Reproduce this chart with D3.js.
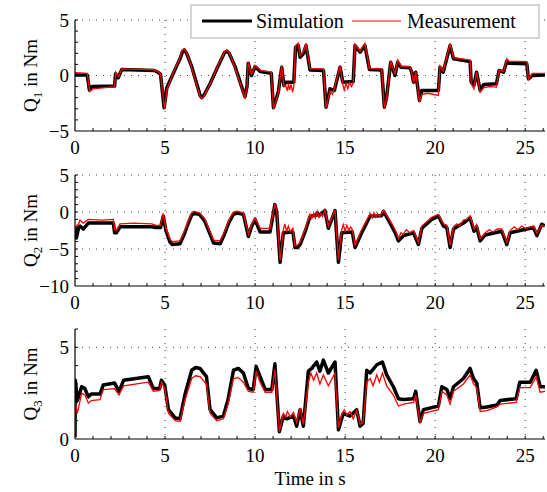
<!DOCTYPE html>
<html lang="en">
<head>
<meta charset="UTF-8">
<title>Joint torques</title>
<script src="https://d3js.org/d3.v7.min.js"></script>
<style>
  body { margin: 0; background: #fff; }
  text { font-family: "Liberation Serif", "Times New Roman", serif; fill: #000; }
</style>
</head>
<body>
<div id="plot"></div>
<script>
// time axis shared by all three panels
var timeTicks = [0, 5, 10, 15, 20, 25];
var timeMax = 26.1;

// panel 1: Q1 [t, value]
var q1Sim = [[0,0.05],[0.68,0.05],[0.8,-1.3],[0.95,-1.0],[2.2,-0.95],[2.25,0.15],[2.4,-0.2],[2.6,0.55],[3.5,0.5],[4.4,0.45],[4.6,0.3],[4.75,0.1],[4.95,-2.9],[5.1,-1.1],[5.46,0.2],[5.83,1.5],[5.97,2.15],[6.07,2.3],[6.2,2.0],[6.48,0.8],[6.76,-0.75],[6.95,-1.8],[7.04,-2.0],[7.15,-1.8],[7.5,-0.75],[7.96,0.9],[8.3,2.05],[8.43,2.2],[8.56,2.0],[8.89,0.8],[9.26,-1.05],[9.44,-1.9],[9.55,-1.0],[9.62,1.1],[9.8,0.0],[10.0,0.8],[10.3,0.35],[10.9,0.2],[11.02,-2.9],[11.2,-2.0],[11.3,-1.4],[11.48,0.75],[11.6,-0.9],[11.7,-0.6],[12.15,-0.6],[12.25,2.55],[12.4,2.7],[12.5,1.65],[12.68,1.95],[12.83,2.7],[13.05,0.5],[13.8,0.45],[13.94,-2.85],[14.16,-1.2],[14.4,-1.35],[14.72,0.75],[14.87,-0.6],[15.45,-0.55],[15.55,2.7],[15.83,2.1],[16.1,2.7],[16.35,0.55],[17.03,0.5],[17.18,-2.85],[17.3,-2.0],[17.53,1.2],[17.77,0.0],[17.92,1.2],[18.1,0.75],[18.6,0.7],[18.7,0.3],[18.8,-0.6],[18.92,0.3],[19.13,-2.25],[19.26,-1.35],[20.18,-1.35],[20.27,0.75],[20.45,0.3],[20.83,2.7],[21.02,1.5],[21.94,1.25],[22.0,-0.6],[22.15,-0.9],[22.3,0.3],[22.5,-1.35],[22.7,-0.8],[23.4,-0.75],[23.55,0.45],[23.8,0.3],[23.98,1.3],[24.1,1.1],[25.09,1.05],[25.18,-0.3],[25.4,0.0],[26.1,0.05]];
var q1Meas = [[0,0.25],[0.68,0.2],[0.82,-1.45],[1.0,-1.2],[2.2,-1.0],[2.26,0.3],[2.42,-0.1],[2.62,0.6],[3.5,0.55],[4.4,0.5],[4.6,0.35],[4.75,0.15],[4.97,-3.0],[5.12,-1.2],[5.46,0.3],[5.83,1.6],[5.95,2.25],[6.05,2.4],[6.2,2.1],[6.48,0.7],[6.76,-0.85],[6.95,-1.9],[7.04,-2.1],[7.15,-1.9],[7.5,-0.8],[7.96,1.0],[8.3,2.15],[8.43,2.3],[8.56,2.1],[8.89,0.7],[9.26,-1.15],[9.44,-2.0],[9.55,-1.1],[9.62,1.2],[9.8,0.1],[10.0,0.9],[10.3,0.45],[10.9,0.3],[11.02,-3.0],[11.2,-2.1],[11.3,-1.5],[11.48,0.9],[11.6,-1.0],[11.7,-0.9],[11.8,-1.4],[11.85,-0.7],[11.92,-1.3],[12.0,-0.8],[12.08,-1.5],[12.15,-1.0],[12.25,2.7],[12.4,2.9],[12.5,1.8],[12.68,2.1],[12.83,2.9],[13.05,0.6],[13.8,0.6],[13.94,-2.9],[14.16,-1.4],[14.3,-1.7],[14.4,-1.2],[14.72,0.9],[14.87,-0.8],[14.95,-1.3],[15.05,-0.7],[15.15,-1.2],[15.25,-0.6],[15.35,-1.0],[15.45,-0.7],[15.55,2.8],[15.83,2.2],[16.1,2.9],[16.35,0.65],[17.03,0.6],[17.18,-2.95],[17.3,-2.1],[17.53,1.3],[17.77,0.1],[17.92,1.4],[18.1,0.85],[18.6,0.8],[18.7,0.35],[18.8,-0.7],[18.92,0.35],[19.13,-2.4],[19.26,-1.7],[19.6,-1.6],[20.18,-1.8],[20.27,0.85],[20.45,0.4],[20.83,2.9],[21.02,1.6],[21.94,1.4],[22.0,-0.7],[22.15,-1.2],[22.3,0.35],[22.5,-1.5],[22.7,-1.1],[23.0,-1.0],[23.4,-1.05],[23.55,0.5],[23.8,0.35],[23.98,1.5],[24.1,1.3],[25.09,1.25],[25.18,-0.35],[25.4,0.2],[26.1,0.2]];

// panel 2: Q2
var q2Sim = [[0,-2.0],[0.08,-3.5],[0.2,-2.1],[0.28,-1.9],[0.46,-2.3],[0.74,-1.5],[2.13,-1.5],[2.2,-2.8],[2.3,-2.8],[2.5,-2.0],[4.26,-2.0],[4.5,-2.1],[4.75,-2.1],[4.9,-0.55],[5.05,-2.5],[5.28,-4.1],[5.4,-4.4],[5.83,-4.3],[6.1,-2.8],[6.3,-1.45],[6.48,-0.4],[6.6,-0.2],[6.9,-0.3],[7.2,-1.2],[7.5,-3.0],[7.7,-4.2],[8.06,-4.3],[8.3,-3.0],[8.55,-1.4],[8.8,-0.3],[9.0,-0.15],[9.35,-0.3],[9.63,-3.3],[9.8,-2.0],[10.0,-1.0],[10.28,-2.7],[10.83,-2.7],[11.1,1.0],[11.2,0.0],[11.39,-6.8],[11.57,-2.8],[12.1,-2.7],[12.22,-4.8],[12.35,-4.8],[12.5,-4.4],[12.8,-2.5],[13.05,-0.6],[13.4,-0.4],[13.45,-0.1],[13.55,-0.5],[13.88,0.2],[14.07,-2.2],[14.44,0.2],[14.63,-6.8],[14.81,-2.8],[15.4,-2.7],[15.55,-4.8],[15.74,-3.8],[15.92,-2.8],[16.39,-0.55],[17.03,-0.5],[17.13,0.1],[17.5,-1.5],[17.78,-2.8],[17.96,-3.9],[18.24,-3.2],[18.8,-2.8],[19.07,-4.4],[19.26,-2.2],[19.81,-1.0],[20.18,-0.55],[20.46,-1.9],[20.65,-2.1],[20.83,-4.8],[21.02,-2.3],[21.57,-1.5],[21.94,-0.8],[22.16,-2.6],[22.3,-2.0],[22.5,-3.9],[22.78,-3.1],[23.7,-2.6],[23.98,-4.4],[24.16,-2.8],[25.46,-2.1],[25.65,-3.2],[25.92,-1.65],[26.1,-1.9]];
var q2Meas = [[0,-2.3],[0.1,-1.8],[0.2,-1.6],[0.28,-1.1],[0.46,-1.5],[0.74,-1.0],[1.5,-1.1],[2.13,-1.0],[2.2,-2.4],[2.3,-2.5],[2.5,-1.6],[3.3,-1.5],[4.26,-1.6],[4.5,-1.8],[4.75,-1.8],[4.9,-0.2],[5.05,-2.2],[5.28,-3.7],[5.4,-4.0],[5.83,-3.9],[6.1,-2.5],[6.3,-1.15],[6.48,-0.1],[6.6,0.1],[6.9,-0.1],[7.2,-0.9],[7.5,-2.7],[7.7,-3.8],[8.06,-3.9],[8.3,-2.7],[8.55,-1.1],[8.8,0.0],[9.0,0.1],[9.35,-0.1],[9.63,-3.0],[9.8,-1.7],[10.0,-0.8],[10.28,-2.2],[10.83,-2.2],[11.1,1.1],[11.2,0.2],[11.39,-6.5],[11.57,-2.4],[11.65,-1.6],[11.75,-2.6],[11.85,-1.9],[11.95,-2.7],[12.1,-2.2],[12.22,-4.6],[12.35,-4.5],[12.5,-4.1],[12.8,-2.2],[13.05,-0.3],[13.15,-0.9],[13.25,-0.2],[13.35,-0.8],[13.45,0.1],[13.55,-0.7],[13.65,-0.2],[13.75,-0.6],[13.88,0.3],[14.07,-1.9],[14.44,0.3],[14.63,-6.4],[14.81,-2.4],[14.9,-1.7],[15.0,-2.6],[15.1,-1.8],[15.2,-2.5],[15.3,-2.0],[15.4,-2.4],[15.55,-4.5],[15.74,-3.4],[15.92,-2.4],[16.39,-0.2],[16.5,-0.8],[16.6,-0.1],[16.7,-0.7],[16.8,-0.2],[16.9,-0.6],[17.03,-0.2],[17.13,0.2],[17.5,-1.2],[17.78,-2.4],[17.96,-3.6],[18.1,-2.8],[18.24,-3.0],[18.4,-2.4],[18.6,-2.8],[18.8,-2.5],[19.07,-4.1],[19.26,-1.9],[19.81,-0.7],[20.18,-0.3],[20.46,-1.6],[20.65,-1.8],[20.83,-4.5],[21.02,-2.0],[21.2,-1.6],[21.35,-1.9],[21.57,-1.1],[21.75,-1.0],[21.94,-0.5],[22.16,-2.3],[22.3,-1.7],[22.5,-3.6],[22.78,-2.8],[23.0,-2.4],[23.2,-2.7],[23.45,-2.3],[23.7,-2.3],[23.98,-4.1],[24.16,-2.5],[24.4,-2.0],[24.6,-2.4],[24.8,-1.9],[25.0,-2.2],[25.46,-1.9],[25.65,-2.9],[25.92,-1.8],[26.1,-1.9]];

// panel 3: Q3
var q3Sim = [[0,0.1],[0.02,3.2],[0.13,2.1],[0.37,2.85],[0.55,2.75],[0.74,2.3],[0.9,2.45],[1.39,2.45],[1.57,2.95],[2.2,3.05],[2.44,2.6],[2.7,3.2],[4.07,3.4],[4.35,2.75],[4.7,2.75],[4.8,3.2],[4.98,2.95],[5.19,1.6],[5.56,1.15],[5.83,1.1],[6.1,2.4],[6.48,3.75],[6.7,3.9],[6.94,3.85],[7.3,3.4],[7.5,1.6],[7.87,1.15],[8.24,1.25],[8.5,2.15],[8.8,3.75],[9.07,3.85],[9.35,3.6],[9.63,2.75],[9.9,2.7],[10.06,3.95],[10.28,3.4],[10.56,2.7],[10.93,2.7],[11.1,4.1],[11.35,0.4],[11.57,1.25],[11.76,1.1],[12.13,1.25],[12.31,0.7],[12.5,1.6],[12.68,0.7],[12.96,3.7],[13.15,3.85],[13.42,4.2],[13.6,3.7],[13.79,4.3],[14.07,3.6],[14.44,4.2],[14.63,0.5],[14.9,1.4],[15.27,1.25],[15.64,1.6],[15.83,0.7],[16.0,0.85],[16.2,3.75],[16.39,3.6],[16.76,4.05],[17.07,4.2],[17.31,3.5],[17.68,2.85],[17.96,2.2],[18.24,2.15],[18.8,2.2],[18.92,2.6],[19.16,0.95],[19.35,1.6],[20.18,1.8],[20.37,2.85],[20.65,2.7],[20.83,2.2],[21.02,2.85],[21.57,3.3],[21.94,3.85],[22.13,3.3],[22.31,3.05],[22.5,1.7],[22.87,1.75],[23.42,1.85],[23.61,2.1],[24.5,2.2],[24.7,3.1],[25.28,3.1],[25.61,3.75],[25.83,2.85],[26.1,2.85]];
var q3Meas = [[0,0.1],[0.02,2.0],[0.13,1.4],[0.37,2.5],[0.55,2.4],[0.74,1.95],[0.9,2.1],[1.39,2.15],[1.57,2.7],[2.2,2.75],[2.44,2.4],[2.7,2.9],[4.07,3.1],[4.35,2.6],[4.7,2.65],[4.8,3.1],[4.98,2.8],[5.19,1.4],[5.56,1.0],[5.83,0.95],[6.1,2.1],[6.48,3.3],[6.7,3.45],[6.94,3.4],[7.3,3.0],[7.5,1.4],[7.87,1.0],[8.24,1.1],[8.5,1.9],[8.8,3.3],[9.07,3.35],[9.35,3.1],[9.63,2.6],[9.9,2.55],[10.06,3.7],[10.28,3.1],[10.56,2.55],[10.93,2.55],[11.1,3.8],[11.35,0.4],[11.57,1.4],[11.7,1.2],[11.8,1.5],[11.95,1.2],[12.13,1.45],[12.31,0.9],[12.5,1.7],[12.68,0.8],[12.96,3.1],[13.1,3.6],[13.25,3.2],[13.42,3.6],[13.6,3.0],[13.79,3.5],[14.07,2.9],[14.44,3.6],[14.63,0.6],[14.8,1.3],[14.95,1.6],[15.1,1.3],[15.27,1.5],[15.45,1.1],[15.64,1.55],[15.83,0.8],[16.0,0.9],[16.2,3.1],[16.39,3.3],[16.55,2.9],[16.76,3.5],[16.9,3.1],[17.07,3.6],[17.31,2.9],[17.68,2.4],[17.96,1.8],[18.24,1.9],[18.8,2.0],[18.92,2.4],[19.16,0.9],[19.35,1.4],[20.18,1.6],[20.37,2.6],[20.65,2.4],[20.83,1.9],[21.02,2.6],[21.57,3.0],[21.94,3.5],[22.13,3.0],[22.31,2.8],[22.5,1.5],[22.87,1.55],[23.42,1.75],[23.61,1.9],[24.5,2.0],[24.7,2.8],[25.28,2.8],[25.61,3.4],[25.83,2.55],[26.1,2.6]];

var yTicks1 = [-5, 0, 5];
var yTicks2 = [-10, -5, 0, 5];
var yTicks3 = [0, 5];
var legendLabels = ["Simulation", "Measurement"];

var W = 547, H = 492;
var left = 75, right = 545;
var fontSize = 19;

var svg = d3.select("#plot").append("svg")
    .attr("width", W)
    .attr("height", H);

var x = d3.scaleLinear().domain([0, timeMax]).range([left, right]);

function fmt(v) {
    return v < 0 ? "\u2212" + Math.abs(v) : String(v);
}

var drawPanel = function(top, bottom, domain, yTicks, sim, meas, sub, idx) {
    var y = d3.scaleLinear().domain(domain).range([bottom, top]);
    var g = svg.append("g");

    g.append("clipPath").attr("id", "clip" + idx)
        .append("rect")
        .attr("x", left).attr("y", top - 2)
        .attr("width", right - left).attr("height", bottom - top + 2);

    // dotted grid
    g.selectAll(".vgrid").data(timeTicks.filter(function(d){ return d > 0; }))
        .enter().append("line")
        .attr("x1", function(d){ return x(d); }).attr("x2", function(d){ return x(d); })
        .attr("y1", top).attr("y2", bottom)
        .attr("stroke", "#444").attr("stroke-width", 1)
        .attr("stroke-dasharray", "1,6");
    g.selectAll(".hgrid").data(yTicks.filter(function(d){ return d > domain[0]; }))
        .enter().append("line")
        .attr("x1", left).attr("x2", right)
        .attr("y1", function(d){ return y(d); }).attr("y2", function(d){ return y(d); })
        .attr("stroke", "#444").attr("stroke-width", 1)
        .attr("stroke-dasharray", "1,6");

    // minor ticks
    g.selectAll(".xminor").data(d3.range(1, Math.floor(timeMax) + 1))
        .enter().append("line")
        .attr("x1", function(d){ return x(d); }).attr("x2", function(d){ return x(d); })
        .attr("y1", bottom).attr("y2", bottom - 3)
        .attr("stroke", "#000").attr("stroke-width", 1);
    g.selectAll(".yminor").data(d3.range(domain[0] + 1, domain[1] + 0.01, 1))
        .enter().append("line")
        .attr("x1", left).attr("x2", left + 3)
        .attr("y1", function(d){ return y(d); }).attr("y2", function(d){ return y(d); })
        .attr("stroke", "#000").attr("stroke-width", 1);

    var line = d3.line()
        .x(function(d){ return x(d[0]); })
        .y(function(d){ return y(d[1]); });

    var lines = g.append("g").attr("clip-path", "url(#clip" + idx + ")");
    lines.append("path").datum(sim)
        .attr("d", line)
        .attr("fill", "none").attr("stroke", "#000")
        .attr("stroke-width", 3.5).attr("stroke-linejoin", "round");
    lines.append("path").datum(meas)
        .attr("d", line)
        .attr("fill", "none").attr("stroke", "#ff0000")
        .attr("stroke-width", 1.3);

    // axes (left + bottom only)
    g.append("line").attr("x1", left).attr("x2", left)
        .attr("y1", top).attr("y2", bottom)
        .attr("stroke", "#000").attr("stroke-width", 1.2);
    g.append("line").attr("x1", left).attr("x2", right)
        .attr("y1", bottom).attr("y2", bottom)
        .attr("stroke", "#000").attr("stroke-width", 1.2);

    // tick labels
    g.selectAll(".xlab").data(timeTicks)
        .enter().append("text")
        .attr("x", function(d){ return x(d); })
        .attr("y", bottom + 23)
        .attr("text-anchor", "middle")
        .style("font-size", fontSize + "px")
        .text(function(d){ return d; });
    g.selectAll(".ylab").data(yTicks)
        .enter().append("text")
        .attr("x", left - 6)
        .attr("y", function(d){ return y(d); })
        .attr("dy", "0.35em")
        .attr("text-anchor", "end")
        .style("font-size", fontSize + "px")
        .text(fmt);

    // y label with subscript
    var cy = (top + bottom) / 2;
    var lab = g.append("text")
        .attr("transform", "translate(37," + cy + ") rotate(-90)")
        .attr("text-anchor", "middle")
        .style("font-size", fontSize + "px");
    lab.append("tspan").text("Q");
    lab.append("tspan").attr("dy", 5).style("font-size", "13px").text(sub);
    lab.append("tspan").attr("dy", -5).text(" in Nm");
};

drawPanel(20, 131, [-5, 5], yTicks1, q1Sim, q1Meas, "1", 1);
drawPanel(175, 286, [-10, 5], yTicks2, q2Sim, q2Meas, "2", 2);
drawPanel(329, 439, [0, 6], yTicks3, q3Sim, q3Meas, "3", 3);

// x label
svg.append("text")
    .attr("x", (left + right) / 2)
    .attr("y", 485)
    .attr("text-anchor", "middle")
    .style("font-size", fontSize + "px")
    .text("Time in s");

// legend
var leg = svg.append("g");
leg.append("rect")
    .attr("x", 191).attr("y", 5)
    .attr("width", 348).attr("height", 33)
    .attr("fill", "#fff").attr("stroke", "#c8c8c8").attr("stroke-width", 1.5);
leg.append("line").attr("x1", 202).attr("x2", 252).attr("y1", 21).attr("y2", 21)
    .attr("stroke", "#000").attr("stroke-width", 3.2);
leg.append("text").attr("x", 256).attr("y", 28)
    .style("font-size", "20px").text(legendLabels[0]);
leg.append("line").attr("x1", 352).attr("x2", 401).attr("y1", 21).attr("y2", 21)
    .attr("stroke", "#ff0000").attr("stroke-width", 1.2);
leg.append("text").attr("x", 407).attr("y", 28)
    .style("font-size", "20px").text(legendLabels[1]);
</script>
</body>
</html>
